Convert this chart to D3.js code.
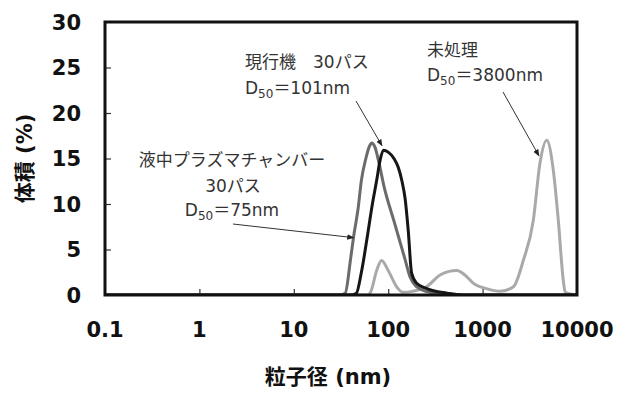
<!DOCTYPE html>
<html lang="ja">
<head>
<meta charset="UTF-8">
<title>粒子径分布</title>
<script src="https://cdn.jsdelivr.net/npm/d3@7"></script>
<style>
  body { margin: 0; background: #fff; }
  .tick-label { font-family: "DejaVu Sans", sans-serif; font-weight: bold; font-size: 21px; fill: #111; }
  .axis-title { font-family: "DejaVu Sans", "Noto Sans CJK JP", sans-serif; font-weight: bold; font-size: 21px; fill: #111; }
  .note { font-family: "DejaVu Sans", "Noto Sans CJK JP", sans-serif; font-size: 17px; fill: #333; }
</style>
</head>
<body>
<svg id="chart" width="630" height="394"></svg>
<script>
// particle size (nm) and volume (%)
var plasmaSize = [0.1, 30, 35, 40, 43, 48, 52, 58, 63, 67, 72, 80, 90, 116, 150, 170, 200, 250, 350, 500, 10000];
var plasmaVol  = [0, 0, 0.2, 4.0, 6.4, 9.5, 12.6, 15.0, 16.3, 16.7, 16.3, 14.5, 12.0, 8.0, 4.0, 2.0, 0.9, 0.4, 0.15, 0, 0];

var currentSize = [0.1, 40, 46, 52, 61.5, 68, 75.5, 82, 89, 100, 115, 128, 140, 151, 163, 177, 200, 256, 420, 600, 10000];
var currentVol  = [0, 0, 0.2, 2.5, 7.1, 10.0, 12.6, 14.8, 15.9, 15.7, 15.0, 14.0, 12.5, 10.6, 7.1, 2.4, 1.3, 0.7, 0.2, 0, 0];

var rawSize = [0.1, 60, 65, 75.5, 85, 100, 123, 143, 180, 255, 354, 440, 532, 650, 795, 1100, 1530, 2117, 2700, 3445, 4055, 4776, 5613, 6340, 7160, 7500, 10000];
var rawVol  = [0, 0, 0.3, 2.7, 3.8, 2.7, 0.9, 0.3, 0.4, 0.9, 2.2, 2.6, 2.7, 2.2, 1.3, 0.7, 0.4, 0.9, 3.8, 8.2, 14.5, 17.0, 13.7, 8.2, 1.6, 0.3, 0];

var xTicks = [0.1, 1, 10, 100, 1000, 10000];
var xTickLabels = ["0.1", "1", "10", "100", "1000", "10000"];
var yTicks = [0, 5, 10, 15, 20, 25, 30];

(function () {
    var svg = d3.select("#chart");
    var margin = {top: 22, right: 53, bottom: 99, left: 105};
    var width = 630 - margin.left - margin.right;
    var height = 394 - margin.top - margin.bottom;

    var x = d3.scaleLog().domain([0.1, 10000]).range([margin.left, margin.left + width]);
    var y = d3.scaleLinear().domain([0, 30]).range([margin.top + height, margin.top]);

    svg.append("rect").attr("width", 630).attr("height", 394).attr("fill", "#fff");

    svg.append("defs").append("clipPath").attr("id", "clip")
        .append("rect")
        .attr("x", margin.left).attr("y", margin.top)
        .attr("width", width).attr("height", height);

    svg.append("defs").append("marker")
        .attr("id", "arrow")
        .attr("viewBox", "0 0 10 10")
        .attr("refX", 9).attr("refY", 5)
        .attr("markerWidth", 7).attr("markerHeight", 7)
        .attr("orient", "auto")
        .append("path")
        .attr("d", "M0,1L10,5L0,9z")
        .attr("fill", "#222");

    // inward ticks
    svg.append("g")
        .attr("transform", "translate(" + margin.left + ",0)")
        .call(d3.axisRight(y).tickValues(yTicks.slice(1, -1)).tickSize(6).tickFormat(""))
        .call(function (g) { g.select(".domain").remove(); })
        .selectAll("line").attr("stroke", "#333").attr("stroke-width", 1.2);

    svg.append("g")
        .attr("transform", "translate(0," + (margin.top + height) + ")")
        .call(d3.axisTop(x).tickValues(xTicks.slice(1, -1)).tickSize(6).tickFormat(""))
        .call(function (g) { g.select(".domain").remove(); })
        .selectAll("line").attr("stroke", "#333").attr("stroke-width", 1.2);

    var line = d3.line()
        .x(function (d) { return x(d[0]); })
        .y(function (d) { return y(d[1]); })
        .curve(d3.curveMonotoneX);

    var series = [
        {size: rawSize, vol: rawVol, color: "#a9a9a9"},
        {size: plasmaSize, vol: plasmaVol, color: "#6b6b6b"},
        {size: currentSize, vol: currentVol, color: "#161616"}
    ];

    series.forEach(function (s) {
        svg.append("path")
            .datum(d3.zip(s.size, s.vol))
            .attr("clip-path", "url(#clip)")
            .attr("fill", "none")
            .attr("stroke", s.color)
            .attr("stroke-width", 3)
            .attr("stroke-linejoin", "round")
            .attr("d", line);
    });

    // frame
    svg.append("rect")
        .attr("x", margin.left).attr("y", margin.top)
        .attr("width", width).attr("height", height)
        .attr("fill", "none").attr("stroke", "#111").attr("stroke-width", 3);

    // tick labels
    svg.selectAll(".ylab").data(yTicks).enter().append("text")
        .attr("class", "tick-label")
        .attr("x", margin.left - 24)
        .attr("y", function (d) { return y(d); })
        .attr("dy", "0.36em")
        .attr("text-anchor", "end")
        .text(function (d) { return d; });

    svg.selectAll(".xlab").data(xTicks).enter().append("text")
        .attr("class", "tick-label")
        .attr("x", function (d) { return x(d); })
        .attr("y", margin.top + height + 42)
        .attr("text-anchor", "middle")
        .text(function (d, i) { return xTickLabels[i]; });

    // axis titles
    svg.append("text")
        .attr("class", "axis-title")
        .attr("text-anchor", "middle")
        .attr("transform", "translate(25," + (margin.top + height / 2) + ")rotate(-90)")
        .attr("dy", "0.35em")
        .text("体積 (%)");

    svg.append("text")
        .attr("class", "axis-title")
        .attr("text-anchor", "middle")
        .attr("x", 328).attr("y", 384)
        .text("粒子径 (nm)");

    // annotations
    function d50(g, tx, ty, anchor, value) {
        var t = g.append("text").attr("class", "note")
            .attr("x", tx).attr("y", ty).attr("text-anchor", anchor);
        t.append("tspan").text("D");
        t.append("tspan").attr("font-size", "12px").attr("dy", 4).text("50");
        t.append("tspan").attr("dy", -4).text("＝" + value);
    }

    var notes = svg.append("g");

    notes.append("text").attr("class", "note").attr("x", 245).attr("y", 68).text("現行機　30パス");
    d50(notes, 245, 94, "start", "101nm");

    notes.append("text").attr("class", "note").attr("x", 427).attr("y", 56).text("未処理");
    d50(notes, 427, 81, "start", "3800nm");

    notes.append("text").attr("class", "note").attr("x", 232).attr("y", 166).attr("text-anchor", "middle").text("液中プラズマチャンバー");
    notes.append("text").attr("class", "note").attr("x", 233).attr("y", 192).attr("text-anchor", "middle").text("30パス");
    d50(notes, 232, 216, "middle", "75nm");

    var arrows = [
        {from: [233, 224], to: [x(43), y(6.3)]},
        {from: [356, 101], to: [x(86), y(16.4)]},
        {from: [503, 92], to: [x(3950), y(15.3)]}
    ];
    arrows.forEach(function (a) {
        notes.append("line")
            .attr("x1", a.from[0]).attr("y1", a.from[1])
            .attr("x2", a.to[0]).attr("y2", a.to[1])
            .attr("stroke", "#333").attr("stroke-width", 1)
            .attr("marker-end", "url(#arrow)");
    });
})();
</script>
</body>
</html>
